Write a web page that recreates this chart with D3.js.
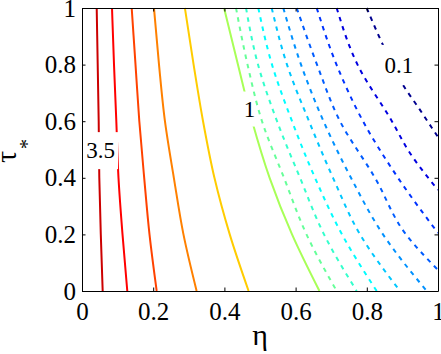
<!DOCTYPE html>
<html>
<head>
<meta charset="utf-8">
<script src="https://cdn.jsdelivr.net/npm/d3@7"></script>
<style>
  body { margin: 0; background: #fff; }
  svg { display: block; }
</style>
</head>
<body>
<div id="chart"></div>
<script>
// contour levels, low to high
const levels = [0.1, 0.2, 0.3, 0.4, 0.5, 0.6, 0.7, 0.8, 0.9, 1, 1.5, 2, 2.5, 3, 3.5];

// points of each contour line, [eta, tau*]
const tauGrid = [1, 0.8, 0.6, 0.4, 0.2, 0];
const eta35 = [0.0413, 0.0441, 0.0469, 0.0486, 0.0528, 0.0581];
const eta30 = [0.0843, 0.0899, 0.0964, 0.1025, 0.1138, 0.1272];
const eta25 = [0.1396, 0.1503, 0.1610, 0.1747, 0.1896, 0.2098];
const eta20 = [0.2022, 0.2163, 0.2330, 0.2580, 0.2850, 0.3220];
const eta15 = [0.2890, 0.3135, 0.3400, 0.3720, 0.4150, 0.4680];
const eta10 = [0.3990, 0.4380, 0.4780, 0.5270, 0.5900, 0.6670];
const eta09 = [0.4326, 0.4650, 0.5056, 0.5674, 0.6306, 0.7154];
const eta08 = [0.4607, 0.4944, 0.5478, 0.6124, 0.6798, 0.7716];
const eta07 = [0.4952, 0.5337, 0.5899, 0.6545, 0.7303, 0.8278];
const eta06 = [0.5329, 0.5758, 0.6376, 0.7051, 0.7809, 0.8933];
const eta05 = [0.5654, 0.6152, 0.6784, 0.7556, 0.8455, 0.9683];
// lines that leave through the right edge
const tau04 = [1, 0.8, 0.6, 0.4, 0.2, 0.074];
const eta04 = [0.6031, 0.6601, 0.7247, 0.8230, 0.9101, 1];
const tau03 = [1, 0.8, 0.6, 0.4, 0.205];
const eta03 = [0.6593, 0.7149, 0.7893, 0.8876, 1];
const tau02 = [1, 0.8, 0.6, 0.4866, 0.392, 0.357];
const eta02 = [0.7154, 0.7739, 0.8705, 0.9216, 0.9775, 1];
const tau01 = [1, 0.869, 0.728, 0.64, 0.576, 0.544];
const eta01 = [0.7997, 0.8455, 0.9017, 0.9494, 0.9831, 1];

// inline contour labels
const labelText = ['3.5', '1', '0.1'];
const labelEta = [0.052, 0.4705, 0.890];
const labelTau = [0.496, 0.643, 0.799];

const xTicks = [0, 0.2, 0.4, 0.6, 0.8, 1];
const xTickLabels = ['0', '0.2', '0.4', '0.6', '0.8', '1'];
const yTicks = [0, 0.2, 0.4, 0.6, 0.8, 1];
const yTickLabels = ['0', '0.2', '0.4', '0.6', '0.8', '1'];

// jet-like colours per level (same order as levels)
const levelColors = ['#00008f', '#0000e0', '#0033ff', '#005cff', '#0091ff', '#00c7ff',
    '#00fdff', '#33ffcc', '#66ff99', '#a8ff57', '#ffcc00', '#ff8000', '#ff4200', '#ff0000', '#cc0000'];

const serif = '"Liberation Serif", "Times New Roman", Times, "DejaVu Serif", "Noto Serif", serif';

const zip = (etas, taus) => etas.map((e, i) => [e, taus[i]]);
const contourPts = [
    zip(eta01, tau01), zip(eta02, tau02), zip(eta03, tau03), zip(eta04, tau04),
    zip(eta05, tauGrid), zip(eta06, tauGrid), zip(eta07, tauGrid), zip(eta08, tauGrid),
    zip(eta09, tauGrid), zip(eta10, tauGrid), zip(eta15, tauGrid), zip(eta20, tauGrid),
    zip(eta25, tauGrid), zip(eta30, tauGrid), zip(eta35, tauGrid)
];

const width = 441, height = 354;
const margin = { top: 8, right: 3, bottom: 63, left: 82 };

const x = d3.scaleLinear().domain([0, 1]).range([margin.left, width - margin.right]);
const y = d3.scaleLinear().domain([0, 1]).range([height - margin.bottom, margin.top]);

const svg = d3.select('#chart').append('svg')
    .attr('width', width)
    .attr('height', height)
    .attr('font-family', serif);

svg.append('rect').attr('width', width).attr('height', height).attr('fill', '#fff');

// mask that cuts the labelled lines where the labels sit
const gapSize = [[35, 37], [20, 35], [40, 40]];
const mask = svg.append('defs').append('mask')
    .attr('id', 'labelGap')
    .attr('maskUnits', 'userSpaceOnUse')
    .attr('x', 0).attr('y', 0).attr('width', width).attr('height', height);
mask.append('rect').attr('width', width).attr('height', height).attr('fill', '#fff');
labelText.forEach((t, i) => {
    mask.append('rect')
        .attr('x', x(labelEta[i]) - gapSize[i][0] / 2)
        .attr('y', y(labelTau[i]) - gapSize[i][1] / 2)
        .attr('width', gapSize[i][0])
        .attr('height', gapSize[i][1])
        .attr('fill', '#000');
});
const labelled = [0.1, 1, 3, 3.5];

const line = d3.line()
    .x(d => x(d[0]))
    .y(d => y(d[1]))
    .curve(d3.curveMonotoneY);

svg.append('g')
    .selectAll('path')
    .data(levels)
    .join('path')
    .attr('d', (d, i) => line(contourPts[i]))
    .attr('fill', 'none')
    .attr('stroke', (d, i) => levelColors[i])
    .attr('stroke-width', 2)
    .attr('stroke-dasharray', d => d < 1 ? '4.5,5' : null)
    .attr('mask', d => labelled.includes(d) ? 'url(#labelGap)' : null);

svg.append('g')
    .selectAll('text')
    .data(labelText)
    .join('text')
    .attr('x', (d, i) => x(labelEta[i]))
    .attr('y', (d, i) => y(labelTau[i]))
    .attr('dy', '0.34em')
    .attr('text-anchor', 'middle')
    .attr('font-family', serif)
    .attr('font-size', 23)
    .text(d => d);

// axes, ticks pointing inward on all four sides
const tickLen = 3.5;
const xAxis = svg.append('g')
    .attr('transform', `translate(0,${y(0)})`)
    .call(d3.axisBottom(x).tickValues(xTicks).tickFormat((d, i) => xTickLabels[i])
        .tickSizeInner(-tickLen).tickSizeOuter(0).tickPadding(11));
const yAxis = svg.append('g')
    .attr('transform', `translate(${x(0)},0)`)
    .call(d3.axisLeft(y).tickValues(yTicks).tickFormat((d, i) => yTickLabels[i])
        .tickSizeInner(-tickLen).tickSizeOuter(0).tickPadding(6));
svg.append('g')
    .attr('transform', `translate(0,${y(1)})`)
    .call(d3.axisTop(x).tickValues(xTicks).tickFormat('').tickSizeInner(-tickLen).tickSizeOuter(0));
svg.append('g')
    .attr('transform', `translate(${x(1)},0)`)
    .call(d3.axisRight(y).tickValues(yTicks).tickFormat('').tickSizeInner(-tickLen).tickSizeOuter(0));

svg.selectAll('g').attr('font-family', serif).attr('font-size', 25);
svg.selectAll('.domain, .tick line').attr('stroke', '#000').attr('stroke-width', 1);
svg.selectAll('.tick text').attr('fill', '#000');
xAxis.selectAll('.tick text').attr('dy', '0.71em');

// axis titles
svg.append('text')
    .attr('x', x(0.5))
    .attr('y', 345)
    .attr('text-anchor', 'middle')
    .attr('font-size', 30)
    .text('η');

svg.append('text')
    .attr('transform', 'translate(16,157) rotate(-90)')
    .attr('text-anchor', 'middle')
    .attr('font-size', 30)
    .text('τ');
svg.append('text')
    .attr('transform', 'translate(34,144) rotate(-90)')
    .attr('text-anchor', 'middle')
    .attr('font-size', 20)
    .text('*');
</script>
</body>
</html>
